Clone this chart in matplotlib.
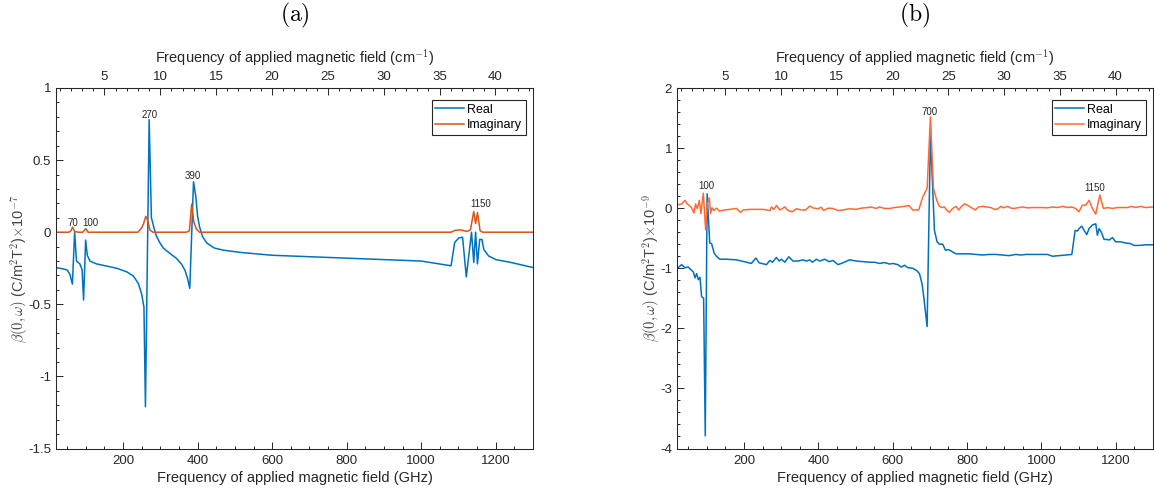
import matplotlib
matplotlib.use("Agg")
import matplotlib.pyplot as plt
from matplotlib.ticker import MultipleLocator, FixedLocator, FormatStrFormatter

plt.rcParams['font.family'] = ['Liberation Sans', 'DejaVu Sans']
plt.rcParams['mathtext.fontset'] = 'cm'
plt.rcParams['axes.unicode_minus'] = False

# ---------------- panel (a) data ----------------
a_real_f = [20, 30, 40, 50, 57, 64, 70, 75, 84, 90, 94, 99.5, 104, 111, 129, 156, 183, 210,
            228, 241, 250, 256, 260, 270, 276, 286, 290, 298, 308, 326, 344, 357, 366, 373,
            379, 389, 395, 400, 405, 413, 425, 445, 470, 514, 600, 800, 1000, 1080, 1090,
            1101, 1111, 1121, 1135, 1141, 1146, 1151, 1157, 1163, 1168, 1181, 1200, 1241, 1300]
a_real_v = [-0.245, -0.25, -0.255, -0.262, -0.29, -0.36, 0.0, -0.2, -0.22, -0.26, -0.47, -0.055,
            -0.16, -0.2, -0.22, -0.235, -0.25, -0.275, -0.305, -0.356, -0.43, -0.52, -1.21,
            0.78, 0.1, 0.0, -0.03, -0.07, -0.11, -0.148, -0.183, -0.222, -0.264, -0.32, -0.39,
            0.35, 0.25, 0.11, 0.04, -0.03, -0.076, -0.11, -0.125, -0.14, -0.16, -0.18, -0.2,
            -0.233, -0.07, -0.04, -0.035, -0.31, 0.0, -0.21, 0.0, -0.22, -0.05, -0.05, -0.12,
            -0.165, -0.19, -0.21, -0.245]
a_imag_f = [20, 55, 60, 64.6, 70, 80, 92, 100, 106, 240, 250, 255, 261, 266, 272, 280, 370,
            378, 384, 390, 397, 405, 1080, 1090, 1105, 1115, 1122, 1132, 1141, 1146, 1151,
            1158, 1165, 1300]
a_imag_v = [0.0, 0.0, 0.01, 0.035, 0.005, 0.0, 0.0, 0.025, 0.0, 0.0, 0.03, 0.06, 0.11, 0.083,
            0.015, 0.0, 0.0, 0.01, 0.195, 0.07, 0.02, 0.0, 0.0, 0.012, 0.016, 0.01, 0.005,
            0.016, 0.143, 0.06, 0.136, 0.01, 0.0, 0.0]
a_peaks = ['70', '100', '270', '390', '1150']
a_peak_f = [65, 113, 272, 388, 1160]
a_peak_v = [0.067, 0.067, 0.813, 0.39, 0.194]

# ---------------- panel (b) data ----------------
b_real_f = [21, 32.5, 41.5, 50.4, 56.7, 63.8, 68.3, 72.8, 77.2, 81.7, 86.2, 91.6, 96, 101,
            108, 113, 120, 126, 135, 153, 180, 207, 220, 232, 241, 260.6, 269.6, 276.7,
            287.4, 294.6, 301, 309.8, 320.5, 332, 345.6, 359, 368, 377, 384, 394.8, 403.7,
            417, 428.8, 439.5, 452.9, 466, 484, 502, 520, 538, 551, 564.7, 578, 591.5,
            600.4, 614, 622.8, 631.8, 640.7, 654, 664.8, 672, 679, 683.6, 692.6, 701.5,
            712.3, 719.4, 725.7, 734.6, 741.8, 750.7, 761.4, 770.4, 788, 806, 824, 842,
            860, 877.7, 895.6, 913.5, 931, 945, 958, 971.6, 985, 998.5, 1016, 1029.8,
            1047.7, 1065.6, 1081.7, 1090.6, 1097, 1101, 1108.5, 1114.7, 1122, 1128, 1137,
            1146, 1150.5, 1155, 1161, 1168.4, 1175.6, 1182, 1191, 1199.7, 1213, 1226.6,
            1240, 1249, 1262, 1280, 1300]
b_real_v = [-1.0, -0.94, -0.99, -0.98, -1.02, -1.06, -1.16, -1.09, -1.19, -1.15, -1.47, -1.5,
            -3.79, 0.24, -0.58, -0.59, -0.75, -0.8, -0.85, -0.85, -0.86, -0.9, -0.92, -0.83,
            -0.91, -0.94, -0.87, -0.9, -0.82, -0.88, -0.85, -0.9, -0.81, -0.88, -0.88, -0.86,
            -0.88, -0.86, -0.9, -0.85, -0.88, -0.85, -0.89, -0.87, -0.94, -0.91, -0.86,
            -0.88, -0.89, -0.9, -0.9, -0.92, -0.905, -0.93, -0.92, -0.94, -0.98, -0.95,
            -0.99, -1.0, -1.04, -1.09, -1.26, -1.48, -1.97, 1.22, -0.37, -0.56, -0.6, -0.6,
            -0.7, -0.69, -0.73, -0.76, -0.76, -0.76, -0.77, -0.78, -0.77, -0.77, -0.78,
            -0.79, -0.77, -0.78, -0.77, -0.77, -0.77, -0.77, -0.77, -0.8, -0.79, -0.78,
            -0.77, -0.37, -0.38, -0.34, -0.3, -0.37, -0.44, -0.34, -0.28, -0.26, -0.45,
            -0.34, -0.4, -0.52, -0.52, -0.53, -0.49, -0.56, -0.56, -0.58, -0.59, -0.62,
            -0.62, -0.61, -0.61]
b_imag_f = [21, 32.5, 41.5, 47.7, 53, 59.4, 65.6, 70, 74.6, 80, 84.4, 90.7, 97, 101.4, 106.8,
            110.3, 114, 119.3, 126.4, 133.6, 139.9, 148.8, 162, 180, 190.8, 198, 216, 233.8,
            251.7, 269.6, 274, 280, 287.4, 296.4, 309.8, 318.7, 330.4, 341, 354.5, 366, 377,
            387.6, 399, 408, 414.5, 426, 439.5, 453, 466, 484, 502, 515.5, 533, 542, 555.7,
            564.7, 578, 591.5, 605, 618, 631.8, 643.4, 654, 670, 681, 692.6, 701.5, 709.6,
            718.5, 725.7, 732.8, 739, 745, 752.5, 761.4, 770.4, 777.5, 783.8, 792.8, 799,
            806, 815, 822, 831, 842, 851, 864, 873, 882, 891, 897, 909, 918, 927, 938.5,
            949, 962.7, 976, 989.5, 1003, 1016, 1030, 1043, 1056.6, 1070, 1081.7, 1092,
            1101, 1110, 1119, 1128, 1137, 1146, 1157, 1166.6, 1177, 1191, 1204, 1217.6,
            1231, 1242.7, 1253, 1267, 1280, 1300]
b_imag_v = [0.055, 0.07, 0.13, 0.07, 0.045, 0.005, -0.08, 0.07, -0.01, 0.13, -0.09, 0.25,
            -0.36, 0.07, 0.17, -0.09, 0.005, -0.04, 0.0, -0.05, -0.04, -0.03, -0.02, -0.005,
            -0.07, -0.03, -0.02, -0.02, -0.02, -0.04, 0.02, -0.02, 0.045, -0.03, 0.02, -0.04,
            -0.06, -0.01, -0.03, -0.03, 0.035, 0.0, -0.01, 0.015, -0.04, 0.0, -0.005, -0.04,
            -0.03, -0.01, -0.02, 0.0, 0.01, 0.02, -0.005, 0.02, -0.005, -0.005, 0.01, 0.02,
            0.03, 0.045, -0.03, -0.03, 0.19, 0.33, 1.52, 0.33, 0.13, 0.03, 0.01, 0.02, -0.03,
            -0.07, -0.005, 0.03, -0.03, 0.02, 0.07, 0.055, 0.03, -0.005, -0.03, 0.02, 0.03,
            0.02, 0.01, -0.02, -0.015, 0.03, 0.005, 0.03, 0.0, -0.005, 0.01, 0.02, 0.005,
            0.01, 0.01, 0.01, 0.005, 0.02, 0.01, 0.03, 0.01, 0.02, -0.005, -0.06, 0.05, 0.05,
            0.13, -0.005, -0.1, 0.22, -0.005, 0.01, -0.005, 0.01, 0.01, 0.01, 0.03, 0.01,
            0.03, 0.01, 0.02]
b_peaks = ['100', '700', '1150']
b_peak_f = [99, 699, 1142]
b_peak_v = [0.37, 1.6, 0.34]

top_ticks = [5, 10, 15, 20, 25, 30, 35, 40]
top_minor = [1, 2, 3, 4, 6, 7, 8, 9, 11, 12, 13, 14, 16, 17, 18, 19, 21, 22, 23, 24,
             26, 27, 28, 29, 31, 32, 33, 34, 36, 37, 38, 39, 41, 42, 43]

GHZ_PER_CM = 29.9792458
INK = '#262626'
BLUE = '#0072BD'

fig = plt.figure(figsize=(11.54, 4.96), dpi=100)


def make_panel(rect, title, rf, rv, imf, imv, imag_color, ylim, ymaj, ymin, exp,
               peaks, pf, pv):
    ax = fig.add_axes(rect)
    ax.plot(rf, rv, color=BLUE, lw=1.1, label='Real')
    ax.plot(imf, imv, color=imag_color, lw=1.1, label='Imaginary')
    ax.set_xlim(20, 1300)
    ax.set_ylim(*ylim)
    ax.xaxis.set_major_locator(MultipleLocator(200))
    ax.xaxis.set_minor_locator(MultipleLocator(50))
    ax.yaxis.set_major_locator(MultipleLocator(ymaj))
    ax.yaxis.set_minor_locator(MultipleLocator(ymin))
    ax.yaxis.set_major_formatter(FormatStrFormatter('%g'))
    ax.tick_params(which='both', direction='in', colors=INK, labelcolor=INK,
                   labelsize=9.5, width=0.7)
    ax.tick_params(which='major', length=5)
    ax.tick_params(which='minor', length=2.5)
    ax.tick_params(axis='x', pad=5)
    for s in ax.spines.values():
        s.set_color(INK)
        s.set_linewidth(0.75)
    ax.set_xlabel('Frequency of applied magnetic field (GHz)', fontsize=10.5,
                  color=INK, labelpad=2.5)
    ax.set_ylabel(r'$\beta(0,\omega)$ (C/m$^2$T$^2$)$\times$10$^{' + exp + '}$',
                  fontsize=10.5, color='#444444', labelpad=-1.5)
    sec = ax.secondary_xaxis('top', functions=(lambda x: x / GHZ_PER_CM,
                                               lambda x: x * GHZ_PER_CM))
    sec.xaxis.set_major_locator(FixedLocator(top_ticks))
    sec.xaxis.set_minor_locator(FixedLocator(top_minor))
    sec.tick_params(which='both', direction='in', colors=INK, labelcolor=INK,
                    labelsize=9.5, width=0.7)
    sec.tick_params(which='major', length=5)
    sec.tick_params(which='minor', length=2.5)
    sec.spines['top'].set_color(INK)
    sec.spines['top'].set_linewidth(0.75)
    sec.set_xlabel(r'Frequency of applied magnetic field (cm$^{-1}$)', fontsize=10.5,
                   color=INK, labelpad=6)
    for t, x, y in zip(peaks, pf, pv):
        ax.text(x, y, t, fontsize=7, color=INK, ha='center', va='center')
    leg = ax.legend(loc='upper right', bbox_to_anchor=(1 - 7 / 477, 1 - 12 / 360.5),
                    borderaxespad=0, fancybox=False, edgecolor=INK, framealpha=1,
                    fontsize=9, handlelength=2.3, handletextpad=0.25, borderpad=0.3,
                    labelspacing=0.25)
    leg.get_frame().set_linewidth(0.8)
    cx = rect[0] + rect[2] / 2
    fig.text(cx, 1 - 15 / 496, title, fontsize=17, ha='center', va='center')
    return ax


H = 360.5 / 496
Y0 = (496 - 448.5) / 496
make_panel([56 / 1154, Y0, 477 / 1154, H], r'$\mathrm{(a)}$', a_real_f, a_real_v,
           a_imag_f, a_imag_v, '#D95319', (-1.5, 1), 0.5, 0.1, '-7',
           a_peaks, a_peak_f, a_peak_v)
make_panel([677 / 1154, Y0, 476 / 1154, H], r'$\mathrm{(b)}$', b_real_f, b_real_v,
           b_imag_f, b_imag_v, '#FF6A33', (-4, 2), 1, 0.2, '-9',
           b_peaks, b_peak_f, b_peak_v)

fig.savefig('out.png', dpi=100)
